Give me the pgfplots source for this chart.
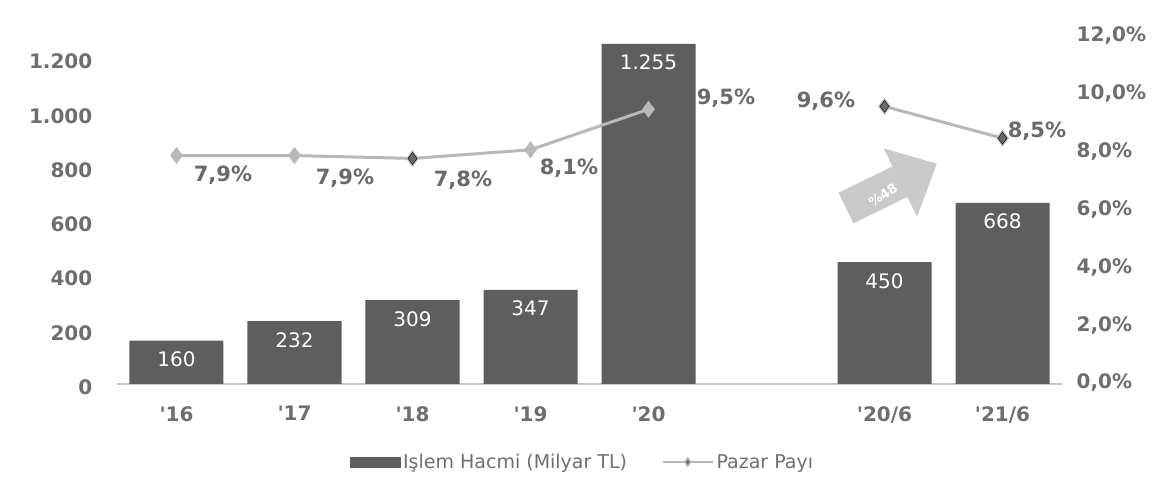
\documentclass[border=0pt]{standalone}
\usepackage{pgfplots}
\pgfplotsset{compat=1.18}
\usepackage{fontspec}
\setmainfont{DejaVu Sans}
\definecolor{barc}{HTML}{5E5E5E}
\definecolor{tickc}{HTML}{6E6E6E}
\definecolor{pctc}{HTML}{6A6A6A}
\definecolor{linec}{HTML}{B8B8B8}
\definecolor{markd}{HTML}{6A6A6A}
\definecolor{arrowc}{HTML}{CACACA}
\definecolor{axisc}{HTML}{C4C4C4}
\definecolor{legc}{HTML}{707070}
\pgfplotsset{
  base/.style={scale only axis, width=944pt, height=347pt, xmin=-0.5, xmax=7.5,
    at={(0pt,0pt)}, anchor=south west, major tick length=0pt, clip=false,
    ticklabel style={font=\fontsize{20}{24}\selectfont\bfseries, text=tickc}},
  mylegline/.style={legend image code/.code={\draw[mark repeat=2, mark phase=2, ##1, line width=1.5pt, mark size=4pt, mark options={fill=markd, draw=none}] plot coordinates {(0pt,0pt) (25pt,0pt) (50pt,0pt)};}},
  mylegbar/.style={legend image code/.code={\fill[barc] (0pt,-5pt) rectangle (50pt,5pt);}},
}
\tikzset{pct/.style={font=\fontsize{21}{25}\selectfont\bfseries, text=pctc, inner sep=0pt}}
\begin{document}
\begin{tikzpicture}[x=1pt,y=1pt]
\fill[white] (-117.5,-111) rectangle (1055.5,384);
\useasboundingbox (-117.5,-111) rectangle (1055.5,384);
% right axis with percentage labels (behind bars)
\begin{axis}[base, ymin=0, ymax=12, axis y line*=right, hide x axis,
  y axis line style={draw=none},
  ytick={0,2,4,6,8,10,12},
  yticklabels={{0,0\%},{2,0\%},{4,0\%},{6,0\%},{8,0\%},{10,0\%},{12,0\%}},
  yticklabel style={anchor=west, inner sep=0pt, xshift=15pt, yshift=1pt}]
\node[pct, xshift=46.5pt, yshift=-19.5pt] at (axis cs:0,7.9) {7,9\%};
\node[pct, xshift=50.5pt, yshift=-22.5pt] at (axis cs:1,7.9) {7,9\%};
\node[pct, xshift=50.5pt, yshift=-21.6pt] at (axis cs:2,7.8) {7,8\%};
\node[pct, xshift=38.5pt, yshift=-18.3pt] at (axis cs:3,8.1) {8,1\%};
\node[pct, xshift=77.5pt, yshift=11.3pt] at (axis cs:4,9.5) {9,5\%};
\node[pct, xshift=-58.5pt, yshift=5.4pt] at (axis cs:6,9.6) {9,6\%};
\node[pct, xshift=34.5pt, yshift=7.2pt] at (axis cs:7,8.5) {8,5\%};
\end{axis}
% left axis with bars
\begin{axis}[base, ymin=0, ymax=1280,
  axis x line*=bottom, axis y line*=left,
  y axis line style={draw=none},
  x axis line style={-, draw=axisc, line width=1.5pt},
  xtick={0,1,2,3,4,6,7},
  xticklabels={\textquotesingle{}16,\textquotesingle{}17,\textquotesingle{}18,\textquotesingle{}19,\textquotesingle{}20,\textquotesingle{}20/6,\textquotesingle{}21/6},
  xticklabel style={anchor=north, inner sep=0pt, yshift=-22pt},
  ytick={0,200,400,600,800,1000,1200},
  yticklabels={0,200,400,600,800,1.000,1.200},
  yticklabel style={anchor=east, inner sep=0pt, xshift=-25pt, yshift=-3pt},
  ybar, bar width=94pt,
  nodes near coords, point meta=explicit symbolic,
  nodes near coords style={anchor=north, yshift=-11pt, inner sep=0pt,
    font=\fontsize{20}{24}\selectfont, text=white}]
\addplot[fill=barc, draw=none] coordinates {(0,160)[160] (1,232)[232] (2,309)[309] (3,347)[347] (4,1255)[1.255] (6,450)[450] (7,668)[668]};
\end{axis}
% line (on top of bars)
\begin{axis}[base, ymin=0, ymax=12, hide axis,
  legend style={at={(0.493,-0.225)}, anchor=center, draw=none, fill=none,
    legend columns=2, font=\fontsize{19}{22}\selectfont, text=legc,
    nodes={inner xsep=3pt},
    /tikz/every even column/.append style={column sep=32pt}},
  legend cell align=left]
\addlegendimage{mylegbar}
\addlegendentry{Işlem Hacmi (Milyar TL)}
\addplot[linec, line width=3pt, mark=diamond*, mark size=6pt,
  mark options={fill=linec, draw=none}, unbounded coords=jump, mylegline]
  coordinates {(0,7.9) (1,7.9) (2,7.8) (3,8.1) (4,9.5) (5,nan) (6,9.6) (7,8.5)};
\addlegendentry{Pazar Payı}
\addplot[only marks, mark=diamond*, mark size=6pt, mark options={fill=markd, draw=none}, forget plot]
  coordinates {(2,7.8) (6,9.6) (7,8.5)};
\end{axis}
% growth arrow annotation
\begin{scope}[shift={(728.5,176)}, rotate=26]
\fill[arrowc] (0,-17) -- (60,-17) -- (60,-39) -- (101,0) -- (60,37) -- (60,17) -- (0,17) -- cycle;
\end{scope}
\node[rotate=35, text=white, inner sep=0pt, font=\fontsize{13}{15}\selectfont\bfseries] at (765.5,189) {\%48};
\end{tikzpicture}
\end{document}
